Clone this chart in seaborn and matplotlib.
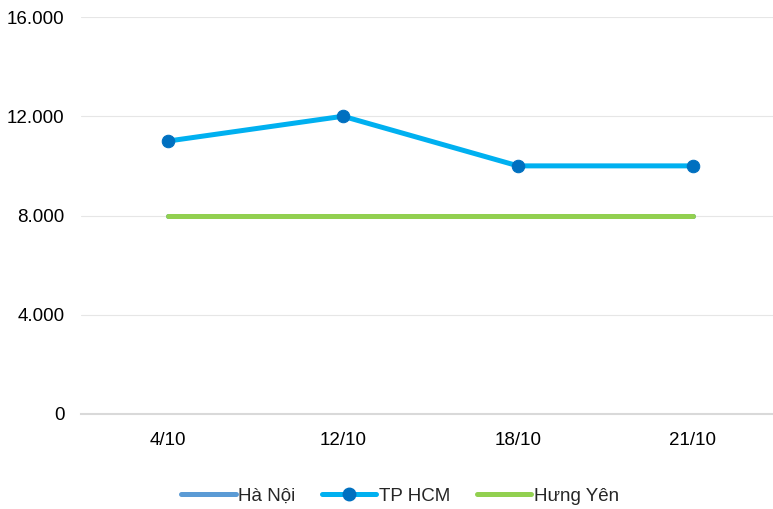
import matplotlib
matplotlib.use("Agg")
import matplotlib.pyplot as plt
import seaborn as sns
import pandas as pd
from matplotlib.lines import Line2D

dates = ["4/10", "12/10", "18/10", "21/10"]
ha_noi = [8000, 8000, 8000, 8000]
tp_hcm = [11000, 12000, 10000, 10000]
hung_yen = [8000, 8000, 8000, 8000]
y_ticks = [0, 4000, 8000, 12000, 16000]

sns.set_theme(style="white")
plt.rcParams["font.family"] = ["Liberation Sans", "DejaVu Sans"]

W, H, DPI = 773, 509, 100
fig = plt.figure(figsize=(W / DPI, H / DPI), dpi=DPI)
ax = fig.add_axes([80.5 / W, 1 - 414 / H, 700 / W, (414 - 17) / H])

x = list(range(len(dates)))
df = pd.DataFrame({"x": x, "Hà Nội": ha_noi, "TP HCM": tp_hcm, "Hưng Yên": hung_yen})

c_hn, c_hcm, c_mk, c_hy = "#5B9BD5", "#00B0F0", "#0070C0", "#92D050"
lw = 3.6
fs = 13.5

sns.lineplot(data=df, x="x", y="Hà Nội", ax=ax, color=c_hn, linewidth=lw,
             solid_capstyle="round", zorder=3)
sns.lineplot(data=df, x="x", y="TP HCM", ax=ax, color=c_hcm, linewidth=lw,
             marker="o", markersize=9, markerfacecolor=c_mk, markeredgecolor=c_mk,
             solid_capstyle="round", zorder=4)
sns.lineplot(data=df, x="x", y="Hưng Yên", ax=ax, color=c_hy, linewidth=lw,
             solid_capstyle="round", zorder=5)

ax.set_xlim(-0.5, len(dates) - 0.5)
ax.set_ylim(0, 16000)
ax.set_xticks(x)
ax.set_xticklabels(dates)
ax.set_yticks(y_ticks)
ax.set_yticklabels([f"{v:,}".replace(",", ".") for v in y_ticks])
ax.set_xlabel("")
ax.set_ylabel("")
ax.tick_params(axis="both", labelsize=fs, colors="#000000", length=0)
ax.tick_params(axis="x", pad=13)
ax.tick_params(axis="y", pad=11.5)

ax.grid(axis="y", color="#E6E6E6", linewidth=0.8)
ax.grid(axis="x", visible=False)
for s in ["top", "right", "left"]:
    ax.spines[s].set_visible(False)
ax.spines["bottom"].set_color("#D9D9D9")
ax.spines["bottom"].set_linewidth(1.5)

handles = [
    Line2D([], [], color=c_hn, linewidth=lw, solid_capstyle="round"),
    Line2D([], [], color=c_hcm, linewidth=lw, marker="o", markersize=9,
           markerfacecolor=c_mk, markeredgecolor=c_mk, solid_capstyle="round"),
    Line2D([], [], color=c_hy, linewidth=lw, solid_capstyle="round"),
]
fig.legend(handles, ["Hà Nội", "TP HCM", "Hưng Yên"], loc="center",
           bbox_to_anchor=(400 / W, 1 - 496 / H), ncol=3, frameon=False,
           fontsize=fs, handlelength=2.9, handletextpad=0.15, columnspacing=1.4)

fig.savefig("out.png", dpi=DPI)
